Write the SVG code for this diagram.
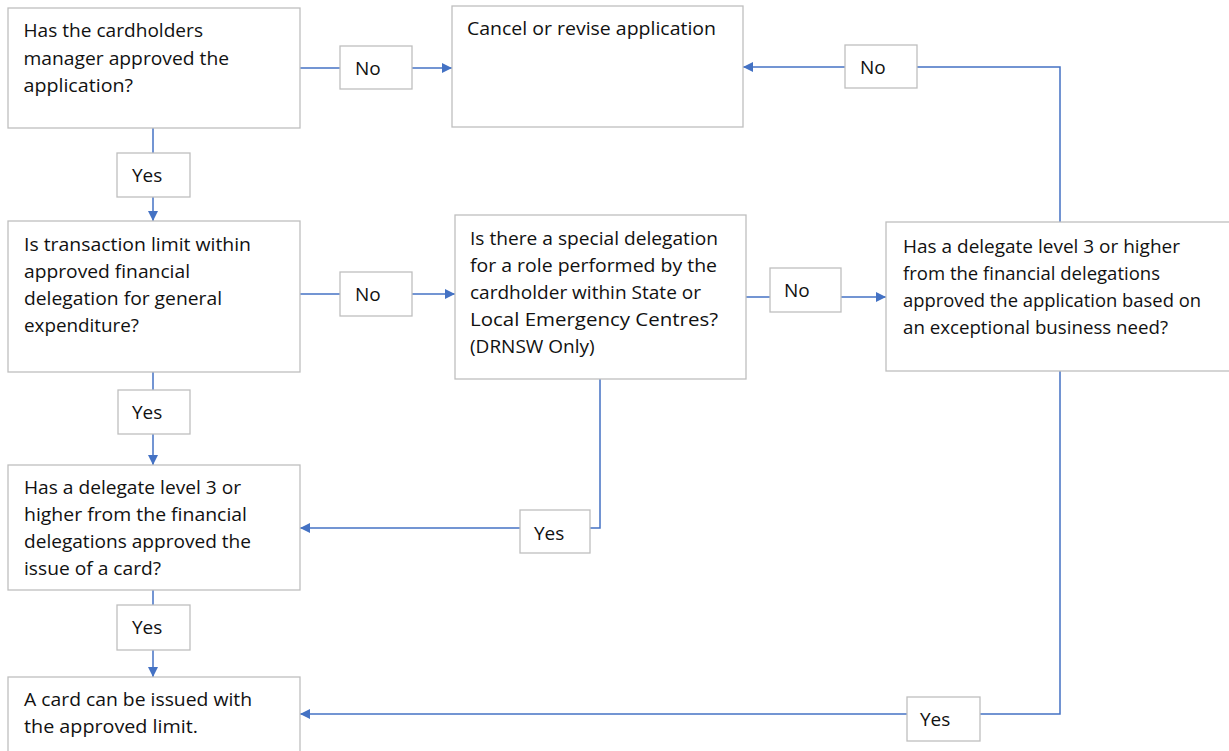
<svg xmlns="http://www.w3.org/2000/svg" width="1229" height="751" viewBox="0 0 1229 751">
<defs>
<marker id="ah" viewBox="0 0 10 10" refX="10" refY="5" markerWidth="10" markerHeight="10" markerUnits="userSpaceOnUse" orient="auto">
<path d="M0,0 L10,5 L0,10 z" fill="#4472c4"/>
</marker>
<style>
.box{fill:#fff;stroke:#bfbfbf;stroke-width:1.3}
.t{font-family:"Open Sans","Noto Sans","Liberation Sans",sans-serif;font-size:19px;fill:#111}
.c{fill:none;stroke:#4472c4;stroke-width:1.5}
.a{marker-end:url(#ah)}
</style>
</defs>
<rect width="1229" height="751" fill="#fff"/>
<g id="connectors">
<path class="c" d="M300,68 H340"/>
<path class="c a" d="M412,68 H452"/>
<path class="c" d="M1060,222 V67 H917"/>
<path class="c a" d="M845,67 H743"/>
<path class="c" d="M153,128 V153"/>
<path class="c a" d="M153,197 V221"/>
<path class="c" d="M300,294 H340"/>
<path class="c a" d="M412,294 H455"/>
<path class="c" d="M746,297 H770"/>
<path class="c a" d="M841,297 H886"/>
<path class="c" d="M153,372 V390"/>
<path class="c a" d="M153,434 V465"/>
<path class="c" d="M600,379 V528 H590"/>
<path class="c a" d="M520,528 H300"/>
<path class="c" d="M153,590 V605"/>
<path class="c a" d="M153,650 V677"/>
<path class="c" d="M1060,371 V714 H980"/>
<path class="c a" d="M907,714 H300"/>
</g>
<g id="n1"><rect class="box" x="8" y="8" width="292" height="120"/>
<text class="t" x="23.5" y="37" textLength="179.5" lengthAdjust="spacingAndGlyphs">Has the cardholders</text>
<text class="t" x="23.5" y="64.5" textLength="205.5" lengthAdjust="spacingAndGlyphs">manager approved the</text>
<text class="t" x="23.5" y="92" textLength="109.5" lengthAdjust="spacingAndGlyphs">application?</text></g>
<g id="n2"><rect class="box" x="452" y="6" width="291" height="121"/>
<text class="t" x="467" y="35" textLength="249" lengthAdjust="spacingAndGlyphs">Cancel or revise application</text></g>
<g id="n3"><rect class="box" x="8" y="221" width="292" height="151"/>
<text class="t" x="24" y="250.5" textLength="227" lengthAdjust="spacingAndGlyphs">Is transaction limit within</text>
<text class="t" x="24" y="277.5" textLength="166" lengthAdjust="spacingAndGlyphs">approved financial</text>
<text class="t" x="24" y="304.5" textLength="198" lengthAdjust="spacingAndGlyphs">delegation for general</text>
<text class="t" x="24" y="331.5" textLength="115" lengthAdjust="spacingAndGlyphs">expenditure?</text></g>
<g id="n4"><rect class="box" x="455" y="215" width="291" height="164"/>
<text class="t" x="470" y="244.5" textLength="248" lengthAdjust="spacingAndGlyphs">Is there a special delegation</text>
<text class="t" x="470" y="271.5" textLength="247" lengthAdjust="spacingAndGlyphs">for a role performed by the</text>
<text class="t" x="470" y="298.5" textLength="231" lengthAdjust="spacingAndGlyphs">cardholder within State or</text>
<text class="t" x="470" y="325.5" textLength="248" lengthAdjust="spacingAndGlyphs">Local Emergency Centres?</text>
<text class="t" x="470" y="352.5">(DRNSW Only)</text></g>
<g id="n5"><rect class="box" x="886" y="222" width="345" height="149"/>
<text class="t" x="903" y="252.5" textLength="277" lengthAdjust="spacingAndGlyphs">Has a delegate level 3 or higher</text>
<text class="t" x="903" y="279.5" textLength="257" lengthAdjust="spacingAndGlyphs">from the financial delegations</text>
<text class="t" x="903" y="306.5" textLength="298" lengthAdjust="spacingAndGlyphs">approved the application based on</text>
<text class="t" x="903" y="333.5" textLength="265" lengthAdjust="spacingAndGlyphs">an exceptional business need?</text></g>
<g id="n6"><rect class="box" x="8" y="465" width="292" height="125"/>
<text class="t" x="24" y="493.5" textLength="217" lengthAdjust="spacingAndGlyphs">Has a delegate level 3 or</text>
<text class="t" x="24" y="520.5" textLength="223" lengthAdjust="spacingAndGlyphs">higher from the financial</text>
<text class="t" x="24" y="547.5" textLength="227" lengthAdjust="spacingAndGlyphs">delegations approved the</text>
<text class="t" x="24" y="574.5" textLength="137" lengthAdjust="spacingAndGlyphs">issue of a card?</text></g>
<g id="n7"><rect class="box" x="8" y="677" width="292" height="80"/>
<text class="t" x="24" y="705.5" textLength="228" lengthAdjust="spacingAndGlyphs">A card can be issued with</text>
<text class="t" x="24" y="732.5" textLength="174" lengthAdjust="spacingAndGlyphs">the approved limit.</text></g>
<g id="l1"><rect class="box" x="340" y="46" width="72" height="43"/><text class="t" x="355" y="74.5">No</text></g>
<g id="l2"><rect class="box" x="845" y="45" width="72" height="43"/><text class="t" x="860" y="73.5">No</text></g>
<g id="l3"><rect class="box" x="340" y="272" width="72" height="44"/><text class="t" x="355" y="300.5">No</text></g>
<g id="l4"><rect class="box" x="770" y="268" width="71" height="44"/><text class="t" x="784" y="296.5">No</text></g>
<g id="l5"><rect class="box" x="117" y="153" width="73" height="44"/><text class="t" x="132" y="181.5">Yes</text></g>
<g id="l6"><rect class="box" x="118" y="390" width="72" height="44"/><text class="t" x="132" y="418.5">Yes</text></g>
<g id="l7"><rect class="box" x="117" y="605" width="73" height="45"/><text class="t" x="132" y="633.5">Yes</text></g>
<g id="l8"><rect class="box" x="520" y="510" width="70" height="43"/><text class="t" x="534" y="539.5">Yes</text></g>
<g id="l9"><rect class="box" x="907" y="697" width="73" height="44"/><text class="t" x="920" y="725.5">Yes</text></g>
</svg>
